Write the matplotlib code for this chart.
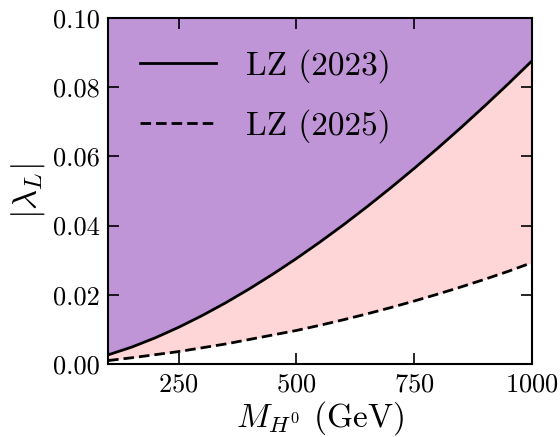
import matplotlib
matplotlib.use("Agg")
import matplotlib.pyplot as plt
import numpy as np

plt.rcParams["font.family"] = "serif"
plt.rcParams["font.serif"] = ["cmr10"]
plt.rcParams["mathtext.fontset"] = "cm"
plt.rcParams["axes.formatter.use_mathtext"] = True

# dark matter mass (GeV) and coupling limits
mass = [100, 150, 200, 250, 300, 350, 400, 450, 500, 550,
        600, 650, 700, 750, 800, 850, 900, 950, 1000]
lz_2023 = [0.00264, 0.00488, 0.00756, 0.01062, 0.01402, 0.01772, 0.02172, 0.02598, 0.03050, 0.03526,
           0.04025, 0.04547, 0.05090, 0.05653, 0.06237, 0.06840, 0.07462, 0.08101, 0.08760]
lz_2025 = [0.0010, 0.0018, 0.0027, 0.0036, 0.0047, 0.0058, 0.0071, 0.0084, 0.0097, 0.0112,
           0.0128, 0.0145, 0.0163, 0.0182, 0.0202, 0.0223, 0.0245, 0.0268, 0.0293]

x = np.array(mass)
y23 = np.array(lz_2023)
y25 = np.array(lz_2025)

fig = plt.figure(figsize=(5.6, 4.37), dpi=100)
ax = fig.add_axes([0.193, 0.167, 0.757, 0.792])

ax.fill_between(x, y23, 0.1, color="#bf95d8", lw=0)
ax.fill_between(x, y25, y23, color="#ffd6d8", lw=0)
ax.plot(x, y23, color="black", lw=2.0, label="LZ (2023)")
ax.plot(x, y25, color="black", lw=2.0, dashes=(3.8, 1.8), label="LZ (2025)")

ax.set_xlim(100, 1000)
ax.set_ylim(0, 0.10)
ax.set_xticks([250, 500, 750, 1000])
ax.set_yticks([0, 0.02, 0.04, 0.06, 0.08, 0.10])
ax.set_yticklabels(["0.00", "0.02", "0.04", "0.06", "0.08", "0.10"])
ax.tick_params(direction="in", top=True, right=True, length=8, width=1.2,
               labelsize=19, pad=6)
for s in ax.spines.values():
    s.set_linewidth(1.5)

ax.set_xlabel(r"$M_{H^0}$ (GeV)", fontsize=24, labelpad=2)
ax.set_ylabel(r"$|\lambda_L|$", fontsize=25, labelpad=4)

ax.legend(loc="upper left", frameon=False, fontsize=24, handlelength=2.3,
          handletextpad=0.9, labelspacing=0.78, borderaxespad=0.55)

fig.savefig("out.png", dpi=100)
